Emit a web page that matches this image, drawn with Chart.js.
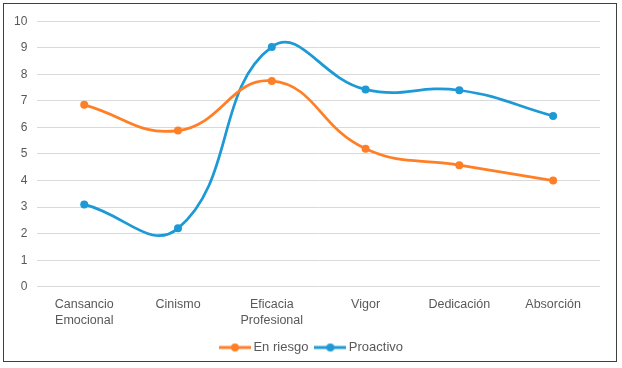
<!DOCTYPE html>
<html>
<head>
<meta charset="utf-8">
<script src="https://cdn.jsdelivr.net/npm/chart.js@4/dist/chart.umd.min.js"></script>
<style>
  html, body { margin: 0; padding: 0; background: #fff; }
  #box {
    position: absolute; left: 3px; top: 3px;
    width: 612px; height: 357px;
    border: 1px solid #404040;
  }
</style>
</head>
<body>
<div id="box"><canvas id="c"></canvas></div>
<script>
const categories = [['Cansancio', 'Emocional'], 'Cinismo', ['Eficacia', 'Profesional'], 'Vigor', 'Dedicación', 'Absorción'];
const enRiesgo = [6.85, 5.88, 7.75, 5.2, 4.58, 4.0];
const proactivo = [3.1, 2.2, 9.03, 7.43, 7.4, 6.43];

const orange = '#FF7F27';
const blue = '#1D9AD6';

// line + dot swatch, a bit wider than the legend box so the text sits close to it
function legendIcon(color) {
    const cv = document.createElement('canvas');
    cv.width = 32; cv.height = 10;
    const g = cv.getContext('2d');
    g.strokeStyle = color;
    g.lineWidth = 3;
    g.beginPath(); g.moveTo(0, 5); g.lineTo(32, 5); g.stroke();
    g.fillStyle = color;
    g.beginPath(); g.arc(16, 5, 4, 0, Math.PI * 2); g.fill();
    return cv;
}

// legend is centred on the whole box in the original, not on the padded area
const shiftLegend = {
    id: 'shiftLegend',
    afterLayout(chart) {
        chart.legend.left += 11;
        chart.legend.right += 11;
    }
};

Chart.defaults.font.family = '"Liberation Sans", Arial, sans-serif';
Chart.defaults.color = '#595959';

new Chart(document.getElementById('c'), {
    type: 'line',
    data: {
        labels: categories,
        datasets: [
            {
                label: 'En riesgo',
                data: enRiesgo,
                borderColor: orange,
                backgroundColor: orange,
                borderWidth: 2.75,
                pointRadius: 4,
                pointBorderWidth: 0,
                tension: 0.45
            },
            {
                label: 'Proactivo',
                data: proactivo,
                borderColor: blue,
                backgroundColor: blue,
                borderWidth: 2.75,
                pointRadius: 4,
                pointBorderWidth: 0,
                tension: 0.45
            }
        ]
    },
    plugins: [shiftLegend],
    options: {
        responsive: true,
        maintainAspectRatio: false,
        animation: false,
        layout: { padding: { left: 0, right: 16, top: 5, bottom: -3 } },
        plugins: {
            tooltip: { enabled: false },
            legend: {
                position: 'bottom',
                labels: {
                    usePointStyle: true,
                    pointStyleWidth: 24,
                    boxHeight: 10,
                    font: { size: 13 },
                    color: '#595959',
                    padding: 10,
                    generateLabels(chart) {
                        return chart.data.datasets.map((ds, i) => ({
                            text: ds.label,
                            pointStyle: legendIcon(ds.borderColor),
                            fillStyle: ds.borderColor,
                            strokeStyle: ds.borderColor,
                            lineWidth: 0,
                            datasetIndex: i,
                            fontColor: '#595959'
                        }));
                    }
                }
            }
        },
        scales: {
            x: {
                offset: true,
                grid: { display: false },
                border: { display: false },
                ticks: { font: { size: 12.5, lineHeight: 1.25 }, color: '#595959', maxRotation: 0, padding: 2 },
                afterFit(scale) { scale.height += 1; }
            },
            y: {
                min: 0,
                max: 10,
                ticks: { stepSize: 1, font: { size: 12 }, color: '#595959', padding: 10 },
                grid: { color: '#D9D9D9', lineWidth: 1, drawTicks: false },
                border: { display: false }
            }
        }
    }
});
</script>
</body>
</html>
